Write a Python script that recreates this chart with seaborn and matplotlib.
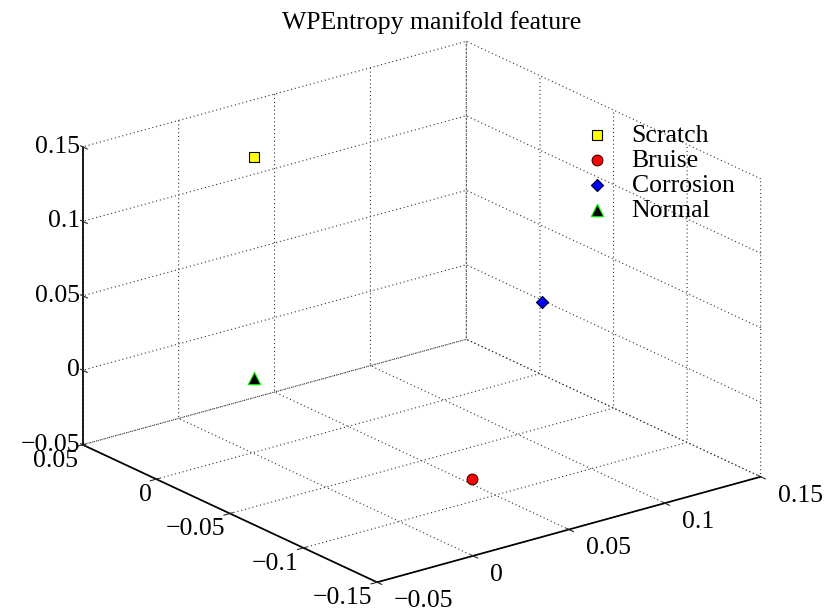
import numpy as np
import pandas as pd
import seaborn as sns
import matplotlib
matplotlib.use('Agg')
import matplotlib.pyplot as plt
from matplotlib.ticker import FixedLocator, FuncFormatter

# manifold coordinates of the four defect classes
classes = ['Scratch', 'Bruise', 'Corrosion', 'Normal']
feat_x = [0.0, -0.149, 0.0, 0.0]
feat_y = [0.001, 0.0, 0.151, 0.001]
feat_z = [0.148, 0.001, -0.002, 0.0]

face_colors = ['#ffff00', '#ff0000', '#0000ff', '#000000']
edge_colors = ['#000000', '#400000', '#000020', '#00ff00']
markers = ['s', 'o', 'D', '^']
sizes = [60, 60, 38, 80]

x_ticks = [-0.15, -0.1, -0.05, 0, 0.05]
y_ticks = [-0.05, 0, 0.05, 0.1, 0.15]
z_ticks = [-0.05, 0, 0.05, 0.1, 0.15]

df = pd.DataFrame({'cls': classes, 'x': feat_x, 'y': feat_y, 'z': feat_z})

sns.set_theme(style='white')
plt.rcParams['font.family'] = ['Liberation Serif', 'DejaVu Serif']
plt.rcParams['font.size'] = 18.5
plt.rcParams['text.color'] = 'black'
plt.rcParams['grid.linestyle'] = (0, (1, 2.5))
plt.rcParams['grid.color'] = '0.2'
plt.rcParams['grid.linewidth'] = 0.8
plt.rcParams['axes.edgecolor'] = 'black'

W, H = 831, 608
fs = 18.5
fig = plt.figure(figsize=(W / 100, H / 100), dpi=100)

# square 3d axes, box centre placed on the reference's box centre
S = 700
zoom = 732.6 / S
cx, cy = 421.7, H - 311.8
left = cx - 0.5135 * S
bottom = cy - 0.5135 * S
ax = fig.add_axes([left / W, bottom / H, S / W, S / H], projection='3d',
                  proj_type='ortho')
ax.set_box_aspect((1, 1, 0.66), zoom=zoom)
ax.view_init(elev=21, azim=-37.5)

for i, row in df.iterrows():
    ax.scatter(row['x'], row['y'], row['z'], marker=markers[i], s=sizes[i],
               c=face_colors[i], edgecolors=edge_colors[i], linewidths=0.8,
               depthshade=False, label=row['cls'])

ax.set_xlim(0.05, -0.15)
ax.set_ylim(-0.05, 0.15)
ax.set_zlim(-0.05, 0.15)

# z axis on the left corner like MATLAB, ticks pointing along x
ax.zaxis.set_ticks_position('lower')
ax.zaxis._get_tickdir = lambda position: 0

fmt = FuncFormatter(lambda v, p: f'{v:g}'.replace('-', '\u2212'))
pads = {'x': -4.8, 'y': 7, 'z': -7}
for name, axis, ticks in [('x', ax.xaxis, x_ticks), ('y', ax.yaxis, y_ticks),
                          ('z', ax.zaxis, z_ticks)]:
    axis.set_major_locator(FixedLocator(ticks))
    axis.set_major_formatter(fmt)
    axis.set_pane_color((1, 1, 1, 0))
    axis.pane.set_edgecolor((1, 1, 1, 0))
    axis._axinfo['axisline']['color'] = 'black'
    axis._axinfo['axisline']['linewidth'] = 0.8
    axis._axinfo['tick']['color'] = 'black'
    axis._axinfo['tick']['linewidth'] = {True: 0.8, False: 0.5}
    axis.set_tick_params(labelsize=fs, labelcolor='black', pad=pads[name])
ax.grid(True)

fig.text(432 / W, 1 - 29 / H, 'WPEntropy manifold feature', ha='center',
         va='baseline', fontsize=fs, color='black')

ax.legend(loc='upper left', bbox_to_anchor=(584 / W, 1 - 124 / H),
          bbox_transform=fig.transFigure, frameon=False, borderpad=0,
          borderaxespad=0, handlelength=1, handletextpad=0.85,
          labelspacing=0.08, fontsize=fs)

# MATLAB-like label alignment
fig.canvas.draw()
for t in ax.xaxis.get_ticklabels():
    t.set_ha('right')
    t.set_va('top')
for t in ax.yaxis.get_ticklabels():
    t.set_ha('left')
    t.set_va('baseline')
for t in ax.zaxis.get_ticklabels():
    t.set_ha('right')
    t.set_va('center')

fig.savefig('out.png', dpi=100)
